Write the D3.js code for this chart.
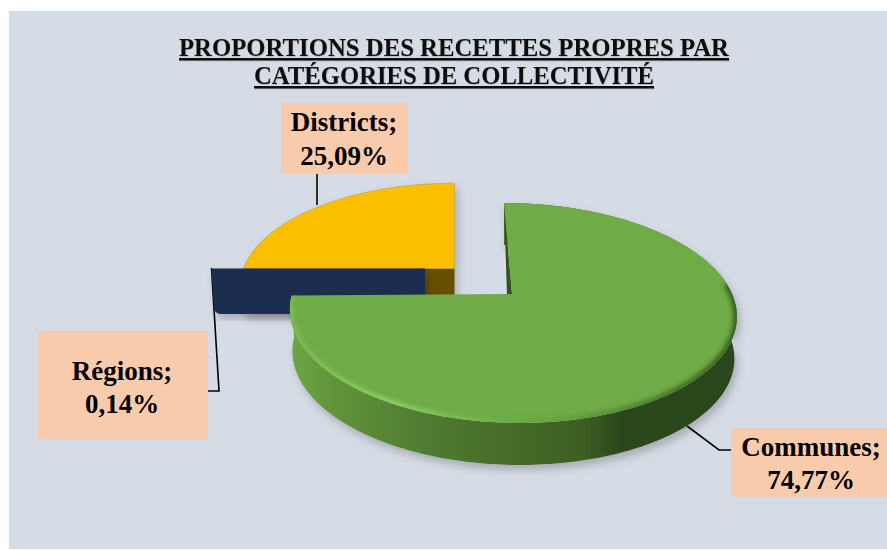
<!DOCTYPE html>
<html><head><meta charset="utf-8">
<script src="https://cdn.jsdelivr.net/npm/d3@7"></script>
<style>html,body{margin:0;padding:0;background:#fff}svg{display:block}</style>
</head><body><div id="chart"></div>
<script>
const titleLines = ["PROPORTIONS DES RECETTES PROPRES PAR", "CATÉGORIES DE COLLECTIVITÉ"];
const categories = ["Communes", "Régions", "Districts"];
const values = [74.77, 0.14, 25.09];
const colors = ["#6fab46", "#1a2e50", "#fbbe00"];

const W = 887, H = 551, persp = 0.1727;
const svg = d3.select("#chart").append("svg").attr("width", W).attr("height", H);
const defs = svg.append("defs");

const slices = d3.pie().sort(null).value(d => d)(values);
const geo = [
  {cx: 512, cy: 294, C: 220, B: 106.7, T: 42, taper: 0.011, lean: -8},
  {cx: 425, cy: 268.5, C: 213, B: 100, T: 45.5, taper: 0, lean: 0},
  {cx: 454.5, cy: 268.5, C: 211, B: 100, T: 45.5, taper: 0, lean: 0}
];
function proj(g, a, lvl = 0) {
  const X = Math.sin(a), Y = Math.cos(a), w = 1 / (1 + persp * Y);
  return [g.cx + g.C * (1 - lvl * g.taper) * X * w + g.lean * Y, g.cy - g.B * Y * w + lvl * g.T];
}
const tip = (g, lvl = 0) => [g.cx, g.cy + lvl * g.T];
const line = d3.line();
const rim = (g, a0, a1, lvl = 0, n = 120) =>
  d3.range(n + 1).map(i => proj(g, d3.scaleLinear([0, n], [a0, a1])(i), lvl));

// gradients & filters
function grad(id, x1, x2, stops) {
  const lg = defs.append("linearGradient").attr("id", id).attr("gradientUnits", "userSpaceOnUse")
    .attr("x1", x1).attr("x2", x2).attr("y1", 0).attr("y2", 0);
  stops.forEach(s => lg.append("stop").attr("offset", s[0]).attr("stop-color", s[1]).attr("stop-opacity", s[2] ?? 1));
}
grad("side", 290, 735, [[0, "#6da745"], [.12, "#5f9039"], [.3, "#507c30"], [.5, "#446b29"], [.66, "#3c5f24"], [.74, "#2c471a"], [1, "#2c471a"]]);
grad("bevel", 290, 735, [[0, "#7cc455", .7], [.1, "#84d05c", .8], [.24, "#86d45f"], [.42, "#78bd50", .7], [.56, "#5d9a3a", .35], [.72, "#4c7f2e", .7], [.88, "#3d6825", .95], [1, "#355c20"]]);
const sh = defs.append("filter").attr("id", "shadow").attr("x", "-10%").attr("y", "-10%").attr("width", "120%").attr("height", "125%");
sh.append("feDropShadow").attr("dx", 3).attr("dy", 5).attr("stdDeviation", 4).attr("flood-color", "#000").attr("flood-opacity", .22);
defs.append("filter").attr("id", "blur").append("feGaussianBlur").attr("stdDeviation", 2.2);
const ts = defs.append("filter").attr("id", "tshadow");
ts.append("feDropShadow").attr("dx", .4).attr("dy", .6).attr("stdDeviation", .5).attr("flood-color", "#000").attr("flood-opacity", .25);

// panel
svg.append("rect").attr("x", 9).attr("y", 11).attr("width", W - 9).attr("height", H - 13).attr("fill", "#d6dce5");

// leader lines (behind the slices)
const leaders = [
  [[687, 426], [719, 450], [731, 450]],
  [[211.5, 268], [219, 391], [208, 391]],
  [[317, 174], [317, 205]]
];
svg.append("g").selectAll("path").data(leaders).join("path")
  .attr("d", d => line(d)).attr("fill", "none").attr("stroke", "#000").attr("stroke-width", 1.6);

// Districts
const gD = geo[2], sD = slices[2];
const gDist = svg.append("g").attr("filter", "url(#shadow)");
gDist.append("path")
  .attr("d", line([tip(gD), proj(gD, 3 * Math.PI / 2), proj(gD, 3 * Math.PI / 2, 1), tip(gD, 1)]) + "Z")
  .attr("fill", "#665000");
gDist.append("path")
  .attr("d", line([tip(gD), ...rim(gD, 3 * Math.PI / 2, sD.endAngle)]) + "Z")
  .attr("fill", colors[2]).attr("stroke", "#b9a24a").attr("stroke-width", .6);

// Régions (seen edge-on)
const gR = geo[1], sR = slices[1];
const rl = proj(gR, sR.startAngle)[0], rt = gR.cy, rb = gR.cy + gR.T;
const rp = d3.path();
rp.moveTo(gR.cx, rt);
rp.arcTo(rl - 1, rt, rl, rt + 3, 2);
rp.lineTo(rl + 2.5, rb - 8);
rp.arcTo(rl + 3, rb, rl + 10, rb, 6);
rp.lineTo(gR.cx, rb);
rp.closePath();
svg.append("path").attr("d", rp.toString()).attr("fill", colors[1]).attr("filter", "url(#shadow)");

// Communes
const gC = geo[0], sC = slices[0];
const rimTop = rim(gC, sC.startAngle, sC.endAngle, 0, 240);
const rimBot = rim(gC, sC.startAngle, sC.endAngle, 1, 240);
svg.append("path")
  .attr("d", line([...rimTop, ...rimBot.slice().reverse()]) + "Z")
  .attr("fill", "url(#side)").attr("filter", "url(#shadow)");
// inner wall sliver
svg.append("path")
  .attr("d", line([proj(gC, sC.startAngle), tip(gC), [gC.cx - 5, gC.cy + 1]]) + "Z")
  .attr("fill", "#34521f");
const topPath = line([tip(gC), ...rimTop]) + "Z";
svg.append("path").attr("d", topPath).attr("fill", colors[0]);
defs.append("clipPath").attr("id", "topClip").append("path").attr("d", topPath);
svg.append("g").attr("clip-path", "url(#topClip)").append("path")
  .attr("d", line(rim(gC, Math.PI * .47, sC.endAngle, 0, 200)))
  .attr("fill", "none").attr("stroke", "url(#bevel)").attr("stroke-width", 7).attr("filter", "url(#blur)");

// title
const title = svg.append("text").attr("text-anchor", "middle")
  .attr("font-family", "'Liberation Serif', serif").attr("font-weight", "bold").attr("font-size", 25)
  .attr("fill", "#111").attr("filter", "url(#tshadow)");
title.selectAll("tspan").data(titleLines).join("tspan")
  .attr("x", 454).attr("y", (d, i) => 56 + i * 28)
  .attr("text-decoration", "underline").attr("textLength", (d, i) => [550, 400][i]).attr("lengthAdjust", "spacingAndGlyphs").text(d => d);

// labels
const boxes = [
  {x: 731, y: 428, w: 156, h: 69, tx: 811, y1: 456, y2: 489},
  {x: 38, y: 331, w: 170, h: 108, tx: 122, y1: 380, y2: 413},
  {x: 281, y: 103, w: 127, h: 71, tx: 344, y1: 131, y2: 165}
];
const fmt = v => v.toFixed(2).replace(".", ",") + "%";
const lab = svg.append("g").selectAll("g").data(categories).join("g");
lab.append("rect").attr("x", (d, i) => boxes[i].x).attr("y", (d, i) => boxes[i].y)
  .attr("width", (d, i) => boxes[i].w).attr("height", (d, i) => boxes[i].h).attr("fill", "#f8cbad");
const lt = lab.append("text").attr("text-anchor", "middle").attr("font-family", "'Liberation Serif', serif")
  .attr("font-weight", "bold").attr("font-size", 27).attr("fill", "#000");
lt.append("tspan").attr("x", (d, i) => boxes[i].tx).attr("y", (d, i) => boxes[i].y1).text(d => d + ";");
lt.append("tspan").attr("x", (d, i) => boxes[i].tx).attr("y", (d, i) => boxes[i].y2).text((d, i) => fmt(values[i]));
</script></body></html>
